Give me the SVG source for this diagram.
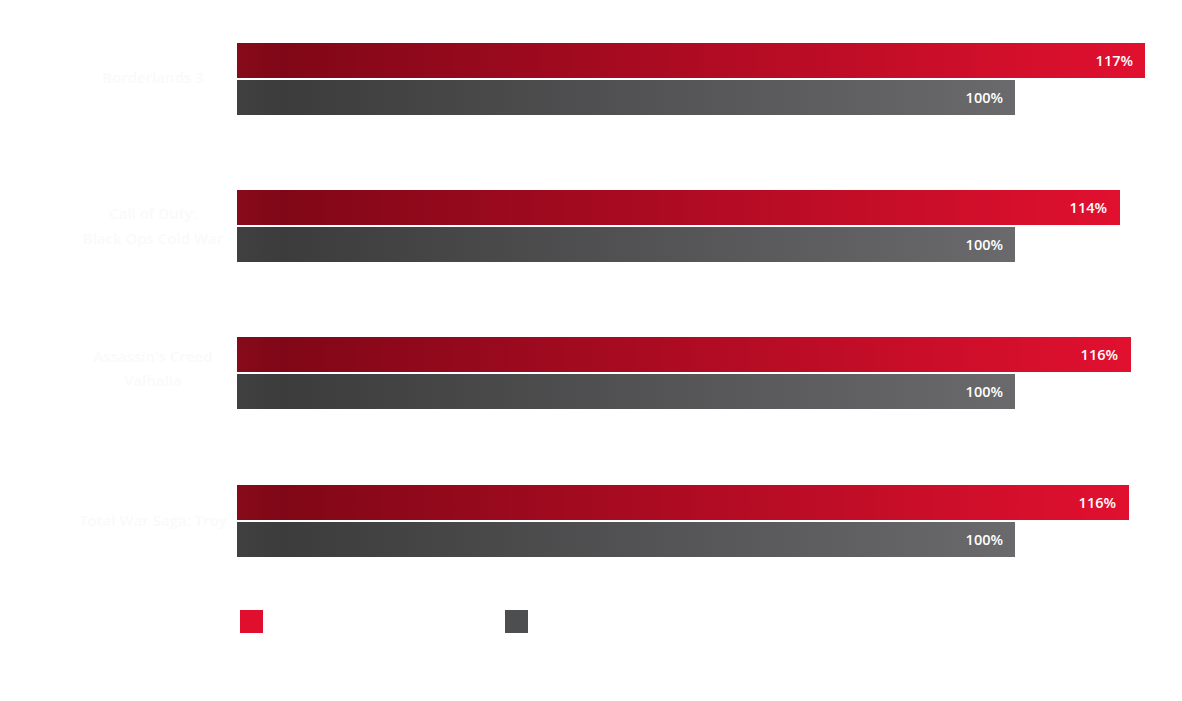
<svg xmlns="http://www.w3.org/2000/svg" width="1182" height="701" viewBox="0 0 1182 701">
<defs>
<linearGradient id="gRed" x1="0" y1="0" x2="1" y2="0">
<stop offset="0" stop-color="#860a1a"/>
<stop offset="0.05" stop-color="#800717"/>
<stop offset="1" stop-color="#e1102f"/>
</linearGradient>
<linearGradient id="gGray" x1="0" y1="0" x2="1" y2="0">
<stop offset="0" stop-color="#404041"/>
<stop offset="0.06" stop-color="#3c3c3d"/>
<stop offset="1" stop-color="#6a6a6c"/>
</linearGradient>
<style>
.red{fill:url(#gRed)}
.gray{fill:url(#gGray)}
.val{font-family:"Open Sans","Liberation Sans",sans-serif;font-size:14.5px;font-weight:600;fill:#ffffff;text-anchor:end}
.cat{font-family:"Open Sans","Liberation Sans",sans-serif;font-size:15px;font-weight:600;fill:#fafafa;text-anchor:middle}
</style>
</defs>
<rect width="1182" height="701" fill="#ffffff"/>
<g id="group-borderlands">
<text class="cat" x="153" y="83">Borderlands 3</text>
<rect class="red" x="237" y="43" width="908" height="35"/>
<text class="val" x="1133" y="66">117%</text>
<rect class="gray" x="237" y="80" width="778" height="35"/>
<text class="val" x="1003" y="103">100%</text>
</g>
<g id="group-cod">
<text class="cat" x="153" y="219">Call of Duty:</text>
<text class="cat" x="153" y="244">Black Ops Cold War</text>
<rect class="red" x="237" y="190" width="883" height="35"/>
<text class="val" x="1107" y="213">114%</text>
<rect class="gray" x="237" y="227" width="778" height="35"/>
<text class="val" x="1003" y="250">100%</text>
</g>
<g id="group-acv">
<text class="cat" x="153" y="362">Assassin's Creed</text>
<text class="cat" x="153" y="386">Valhalla</text>
<rect class="red" x="237" y="337" width="894" height="35"/>
<text class="val" x="1118" y="360">116%</text>
<rect class="gray" x="237" y="374" width="778" height="35"/>
<text class="val" x="1003" y="397">100%</text>
</g>
<g id="group-troy">
<text class="cat" x="153" y="526">Total War Saga: Troy</text>
<rect class="red" x="237" y="485" width="892" height="35"/>
<text class="val" x="1116" y="508">116%</text>
<rect class="gray" x="237" y="522" width="778" height="35"/>
<text class="val" x="1003" y="545">100%</text>
</g>
<g id="legend">
<rect x="240" y="610" width="23" height="23" fill="#e00f2e"/>
<rect x="505" y="610" width="23" height="23" fill="#4d4e50"/>
</g>
<g id="connectors"/>
</svg>
